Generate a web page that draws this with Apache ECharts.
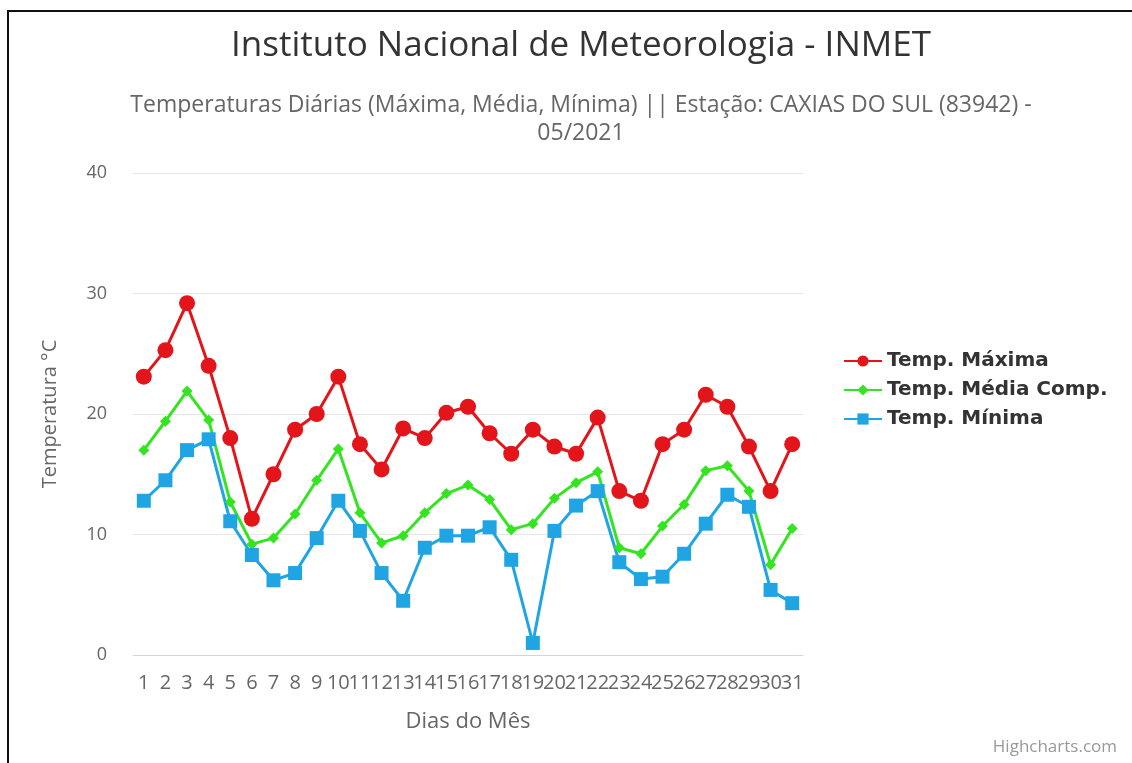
<!DOCTYPE html>
<html>
<head>
<meta charset="utf-8">
<script src="https://cdn.jsdelivr.net/npm/echarts@6/dist/echarts.min.js"></script>
<style>
  html, body { margin: 0; padding: 0; background: #fff; }
  #chart { width: 1132px; height: 763px; }
</style>
</head>
<body>
<div id="chart"></div>
<script>
// dias do mês
const dias = ['1','2','3','4','5','6','7','8','9','10','11','12','13','14','15','16',
  '17','18','19','20','21','22','23','24','25','26','27','28','29','30','31']

const tempMax = [23.1, 25.3, 29.2, 24.0, 18.0, 11.3, 15.0, 18.7, 20.0, 23.1, 17.5, 15.4, 18.8, 18.0, 20.1, 20.6,
  18.4, 16.7, 18.7, 17.3, 16.7, 19.7, 13.6, 12.8, 17.5, 18.7, 21.6, 20.6, 17.3, 13.6, 17.5]

const tempMedia = [17.0, 19.4, 21.9, 19.5, 12.7, 9.2, 9.7, 11.7, 14.5, 17.1, 11.8, 9.3, 9.9, 11.8, 13.4, 14.1,
  12.9, 10.4, 10.9, 13.0, 14.3, 15.2, 8.9, 8.4, 10.7, 12.5, 15.3, 15.7, 13.6, 7.5, 10.5]

const tempMin = [12.8, 14.5, 17.0, 17.9, 11.1, 8.3, 6.2, 6.8, 9.7, 12.8, 10.3, 6.8, 4.5, 8.9, 9.9, 9.9,
  10.6, 7.9, 1.0, 10.3, 12.4, 13.6, 7.7, 6.3, 6.5, 8.4, 10.9, 13.3, 12.3, 5.4, 4.3]

const yTicks = [0, 10, 20, 30, 40]

const font = 'Open Sans'
let myChart = echarts.init(document.getElementById('chart'))

function serie(name, data, color, symbol, size) {
  return {
    name: name,
    type: 'line',
    data: data,
    symbol: symbol,
    symbolSize: size,
    lineStyle: { color: color, width: 3 },
    itemStyle: { color: color },
    emphasis: { disabled: true }
  }
}

myChart.setOption({
  animation: false,
  backgroundColor: '#fff',
  title: [{
    text: 'Instituto Nacional de Meteorologia - INMET',
    left: 576, top: 24, textAlign: 'center',
    textStyle: { fontFamily: font, fontSize: 35, fontWeight: 'normal', color: '#333' }
  }, {
    text: 'Temperaturas Diárias (Máxima, Média, Mínima) || Estação: CAXIAS DO SUL (83942) -\n05/2021',
    left: 576, top: 86, textAlign: 'center',
    textStyle: { fontFamily: font, fontSize: 23, fontWeight: 'normal', color: '#666', lineHeight: 28 }
  }, {
    text: 'Highcharts.com',
    right: 10, bottom: 2,
    textStyle: { fontFamily: font, fontSize: 17, fontWeight: 'normal', color: '#999' }
  }],
  legend: {
    orient: 'vertical',
    left: 838, top: 346,
    itemWidth: 38, itemHeight: 14, itemGap: 9,
    textStyle: { fontFamily: 'DejaVu Sans', fontSize: 20, fontWeight: 'bold', color: '#333' },
    selectedMode: false
  },
  grid: { left: 133, right: 329, top: 173, bottom: 108 },
  xAxis: {
    type: 'category',
    data: dias,
    boundaryGap: true,
    name: 'Dias do Mês',
    nameLocation: 'middle',
    nameGap: 56,
    nameTextStyle: { fontFamily: font, fontSize: 22, color: '#666' },
    axisLine: { lineStyle: { color: '#ccd6eb' } },
    axisTick: { show: false },
    axisLabel: { interval: 0, fontFamily: font, fontSize: 20, color: '#666', margin: 18 }
  },
  yAxis: {
    type: 'value',
    min: yTicks[0], max: yTicks[yTicks.length - 1], interval: 10,
    name: 'Temperatura °C',
    nameLocation: 'middle',
    nameGap: 73,
    nameTextStyle: { fontFamily: font, fontSize: 20, color: '#666' },
    axisLine: { show: false },
    axisTick: { show: false },
    splitLine: { lineStyle: { color: '#e6e6e6' } },
    axisLabel: { fontFamily: font, fontSize: 18, color: '#666', margin: 26 }
  },
  series: [
    serie('Temp. Máxima', tempMax, '#e3141a', 'circle', 16),
    serie('Temp. Média Comp.', tempMedia, '#33e51f', 'diamond', 11),
    serie('Temp. Mínima', tempMin, '#1fa5e3', 'rect', 14)
  ],
  graphic: [{
    type: 'polyline',
    shape: { points: [[8, 763], [8, 11], [1132, 11]] },
    style: { stroke: '#111', lineWidth: 2, fill: null },
    silent: true
  }]
})
</script>
</body>
</html>
